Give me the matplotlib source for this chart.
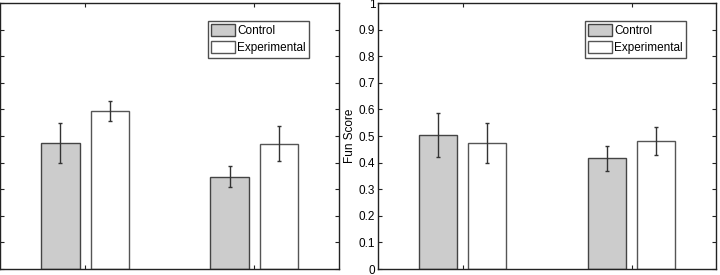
import numpy as np
import matplotlib
matplotlib.use("Agg")
import matplotlib.pyplot as plt

plt.rcParams['font.family'] = ['Liberation Sans', 'DejaVu Sans']

# values
groups = [1, 2]
left_control = [0.475, 0.347]
left_control_err = [0.075, 0.040]
left_exper = [0.594, 0.471]
left_exper_err = [0.037, 0.065]

right_control = [0.504, 0.416]
right_control_err = [0.083, 0.047]
right_exper = [0.474, 0.482]
right_exper_err = [0.074, 0.053]

yticks = np.arange(0, 1.01, 0.1)
ytick_labels = ['0', '0.1', '0.2', '0.3', '0.4', '0.5', '0.6', '0.7', '0.8', '0.9', '1']

fig = plt.figure(figsize=(7.2, 2.75), dpi=100)
ax1 = fig.add_axes([0.0005, 0.0218, 0.4705, 0.967])
ax2 = fig.add_axes([0.525, 0.0218, 0.4695, 0.967])


def draw(ax, ctrl, ctrl_err, expr, expr_err):
    x = np.array(groups, dtype=float)
    off = 0.146
    w = 0.227
    ax.bar(x - off, ctrl, w, color='#cccccc', edgecolor='#444444', linewidth=1.0,
           label='Control', zorder=2)
    ax.bar(x + off, expr, w, color='white', edgecolor='#555555', linewidth=1.0,
           label='Experimental', zorder=2)
    ax.errorbar(x - off, ctrl, yerr=ctrl_err, fmt='none', ecolor='#333333',
                elinewidth=1.0, capsize=1.5, capthick=1.0, zorder=3)
    ax.errorbar(x + off, expr, yerr=expr_err, fmt='none', ecolor='#333333',
                elinewidth=1.0, capsize=1.5, capthick=1.0, zorder=3)
    ax.set_xlim(0.5, 2.5)
    ax.set_ylim(0, 1)
    ax.set_xticks(groups)
    ax.set_xticklabels([])
    ax.set_yticks(yticks)
    ax.set_yticklabels(ytick_labels, fontsize=8.5)
    ax.tick_params(direction='in', length=3, width=0.8, top=True, right=True,
                   colors='#222222', labelcolor='black', pad=2)
    for s in ax.spines.values():
        s.set_linewidth(1.0)
        s.set_color('#222222')
    leg = ax.legend(loc='upper right', bbox_to_anchor=(0.912, 0.934), fontsize=8.5,
                    frameon=True, fancybox=False, borderpad=0.3, handlelength=2.0,
                    handleheight=1.2, handletextpad=0.2, labelspacing=0.35,
                    borderaxespad=0)
    leg.get_frame().set_edgecolor('#222222')
    leg.get_frame().set_linewidth(1.0)


draw(ax1, left_control, left_control_err, left_exper, left_exper_err)
draw(ax2, right_control, right_control_err, right_exper, right_exper_err)
# the left panel's y labels sit outside the cropped picture
ax1.tick_params(labelleft=False)
ax2.set_ylabel('Fun Score', fontsize=8.5, labelpad=2)

fig.savefig('out.png', dpi=100)
